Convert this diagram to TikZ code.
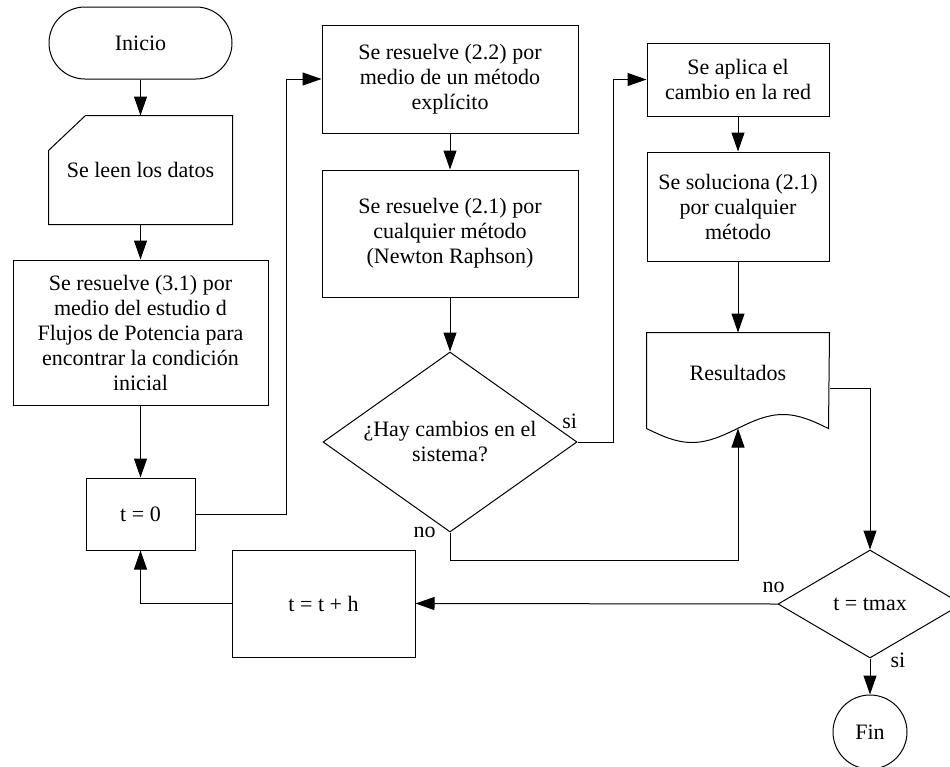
\documentclass[tikz,border=0pt]{standalone}
\usepackage{fontspec}
\setmainfont{Liberation Serif}
\usetikzlibrary{arrows.meta, shapes.geometric}

\tikzset{
  caja/.style={draw, rectangle, align=center, inner sep=0pt},
  forma/.style={rectangle, align=center, inner sep=0pt},
  terminal/.style={draw, rectangle, rounded corners=36pt, inner sep=0pt},
  decision/.style={draw, diamond, align=center, inner sep=0pt},
  flecha/.style={-{Triangle[length=19pt, width=13pt]}},
  etiq/.style={inner sep=0pt}
}

\begin{document}
\begin{tikzpicture}[x=1pt, y=-1pt, line width=1pt, font=\fontsize{22}{25}\selectfont]
        \useasboundingbox (0,0) rectangle (950,766);
        % columna izquierda
        \node[terminal, minimum width=183pt, minimum height=72pt] (inicio) at (140.5,43) {Inicio};
        \node[forma, minimum width=183pt, minimum height=108pt] (leen) at (140.5,170) {Se leen los datos};
        \draw (leen.south west) -- ([yshift=-35pt]leen.north west) -- ([xshift=37pt]leen.north west)
            -- (leen.north east) -- (leen.south east) -- cycle;
        \node[caja, minimum width=255pt, minimum height=145pt] (res31) at (140.5,332.5)
            {Se resuelve (3.1) por\\medio del estudio d\\Flujos de Potencia para\\encontrar la condición\\inicial};
        \node[caja, minimum width=109pt, minimum height=72pt] (t0) at (140.5,514) {t = 0};
        % columna central
        \node[caja, minimum width=256pt, minimum height=108pt] (res22) at (450,79)
            {Se resuelve (2.2) por\\medio de un método\\explícito};
        \node[caja, minimum width=256pt, minimum height=127pt] (res21) at (450,233.5)
            {Se resuelve (2.1) por\\cualquier método\\(Newton Raphson)};
        \node[decision, aspect=1.41, minimum width=254pt, minimum height=180pt] (cambio) at (450,442)
            {¿Hay cambios en el\\sistema?};
        \node[caja, minimum width=183pt, minimum height=107pt] (tth) at (323.5,603.5) {t = t + h};
        % columna derecha
        \node[caja, minimum width=182pt, minimum height=73pt] (aplica) at (738,79.5)
            {Se aplica el\\cambio en la red};
        \node[caja, minimum width=182pt, minimum height=109pt] (soluc) at (738,206.5)
            {Se soluciona (2.1)\\por cualquier\\método};
        \node[forma, minimum width=182pt, minimum height=95pt] (result) at (738,380.5) {};
        \draw (result.south west) sin ++(45.5,14) cos ++(45.5,-14) sin ++(45.5,-14) cos ++(45.5,14)
            -- (result.north east) -- (result.north west) -- cycle;
        \node (resultxt) at (738,373) {Resultados};
        \node[decision, aspect=1.7, minimum width=184pt, minimum height=108pt] (tmax) at (870,604) {t = tmax};
        \node[draw, circle, minimum size=74pt, inner sep=0pt] (fin) at (870,732) {Fin};
        % conexiones
        \draw[flecha] (inicio) -- (leen);
        \draw[flecha] (leen) -- (res31);
        \draw[flecha] (res31) -- (t0);
        \draw[flecha] (t0.east) -| ([xshift=-35pt]res22.west) -- (res22.west);
        \draw[flecha] (res22) -- (res21);
        \draw[flecha] (res21) -- (cambio);
        \draw[flecha] (cambio.east) -| ([xshift=-33pt]aplica.west) -- (aplica.west);
        \draw[flecha] (cambio.south) -- ++(0,28) -| (result.south);
        \draw[flecha] (aplica) -- (soluc);
        \draw[flecha] (soluc) -- (result);
        \draw[flecha] ([yshift=-7.5pt]result.east) -| (tmax.north);
        \draw[flecha] (tmax.west) -- (tth.east);
        \draw[flecha] (tmax) -- (fin);
        \draw[flecha] (tth.west) -| (t0.south);
        % etiquetas si / no
        \node[etiq, anchor=south east] (si1) at ([yshift=13pt]cambio.east) {si};
        \node[etiq, anchor=east] (no1) at ([xshift=-14pt]cambio.south) {no};
        \node[etiq] (no2) at ([xshift=-4pt, yshift=17pt]tmax.west) {no};
        \node[etiq] (si2) at ([xshift=28pt, yshift=-2pt]tmax.south) {si};
\end{tikzpicture}
\end{document}
